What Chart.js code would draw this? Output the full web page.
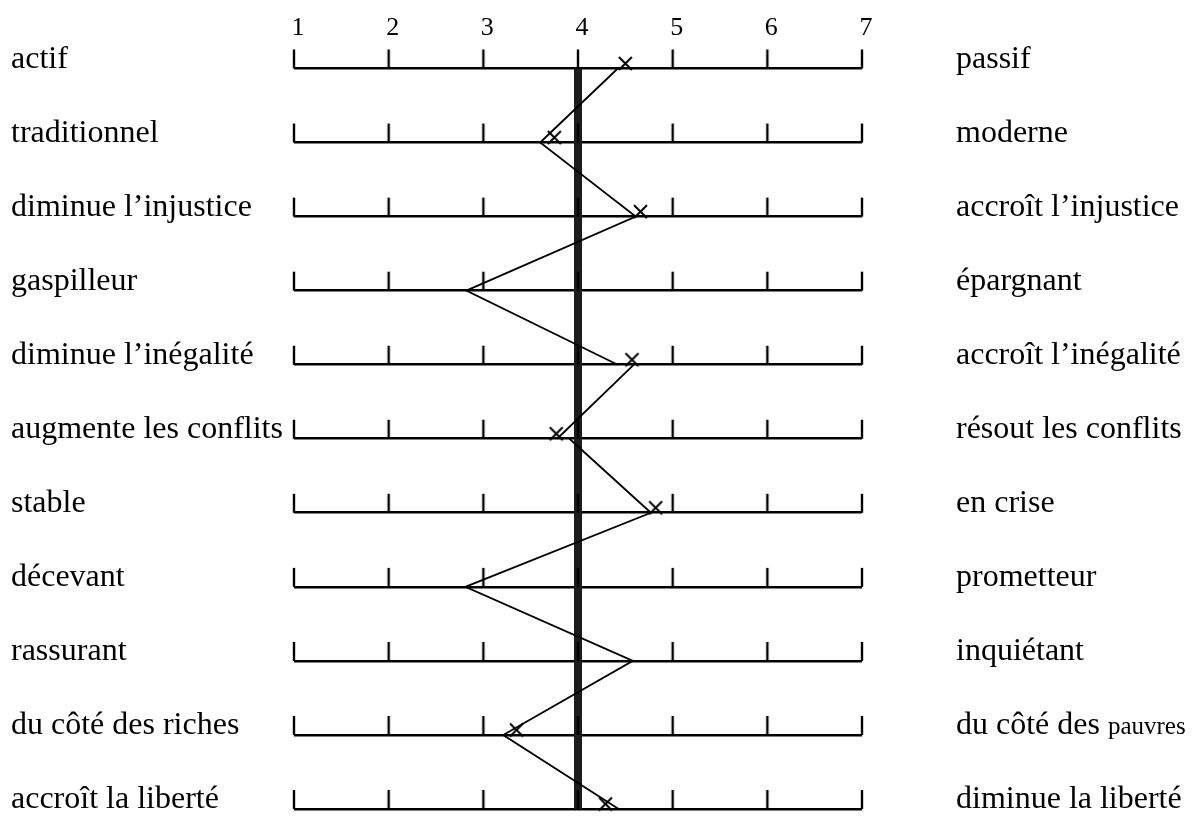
<!DOCTYPE html>
<html>
<head>
<meta charset="utf-8">
<script src="https://cdn.jsdelivr.net/npm/chart.js@4.4.1/dist/chart.umd.min.js"></script>
<style>
html,body{margin:0;padding:0;background:#fff;}
#wrap{width:1194px;height:816px;position:relative;}
</style>
</head>
<body>
<div id="wrap"><canvas id="c"></canvas></div>
<script>
// ---- data ----
const scaleTicks = [1, 2, 3, 4, 5, 6, 7];
const leftLabels = ['actif', 'traditionnel', 'diminue l’injustice', 'gaspilleur', 'diminue l’inégalité',
  'augmente les conflits', 'stable', 'décevant', 'rassurant', 'du côté des riches', 'accroît la liberté'];
const rightLabels = ['passif', 'moderne', 'accroît l’injustice', 'épargnant', 'accroît l’inégalité',
  'résout les conflits', 'en crise', 'prometteur', 'inquiétant', 'du côté des', 'diminue la liberté'];
const rightLabelSmallWords = ['', '', '', '', '', '', '', '', '', 'pauvres', ''];
const markerValues = [4.50, 3.75, 4.66, null, 4.57, 3.77, 4.82, null, null, 3.35, 4.29];
const pathValues = [4.42, 3.60, 4.61, 2.82, 4.42, null, 4.59, 3.78, null, 3.91, 4.77, 2.81, 4.58, 3.21, 4.43];
const pathRows   = [0, 1, 2, 3, 4, null, 4, 5, null, 5, 6, 7, 8, 9, 10];
const neutralValue = 4;

// ---- derived ----
const rows = leftLabels.map((_, i) => i);
const tickPoints = [];
rows.forEach(r => scaleTicks.forEach(t => tickPoints.push({x: t, y: r})));
const markerPoints = [];
markerValues.forEach((v, r) => { if (v !== null) markerPoints.push({x: v, y: r}); });
const pathPoints = pathValues.map((v, i) => ({x: v, y: pathRows[i]}));
const neutralPoints = [{x: neutralValue, y: rows[0]}, {x: neutralValue, y: rows[rows.length - 1]}];

// ---- point style images ----
function makeTickImg(len, w) {
  const c = document.createElement('canvas');
  c.width = 6; c.height = len * 2 + 2;
  const g = c.getContext('2d');
  g.strokeStyle = '#000'; g.lineWidth = w;
  g.beginPath(); g.moveTo(3, 1); g.lineTo(3, len + 1); g.stroke();
  return c;
}
function makeCrossImg(r, w, lift) {
  const c = document.createElement('canvas');
  const size = (r + 2) * 2;
  c.width = size; c.height = size + lift * 2;
  const g = c.getContext('2d');
  const cx = size / 2, cy = c.height / 2 - lift;
  g.strokeStyle = '#000'; g.lineWidth = w;
  g.beginPath();
  g.moveTo(cx - r, cy - r); g.lineTo(cx + r, cy + r);
  g.moveTo(cx + r, cy - r); g.lineTo(cx - r, cy + r);
  g.stroke();
  return c;
}
const tickImg = makeTickImg(19, 2.4);
const crossImg = makeCrossImg(6.5, 2, 5);

const FONT = 'Liberation Serif';

const smallWordPlugin = {
  id: 'smallWord',
  afterDraw(chart) {
    const s = chart.scales.y2;
    const ctx = chart.ctx;
    const opt = s.options.ticks;
    ctx.save();
    ctx.fillStyle = '#000';
    rows.forEach(r => {
      const w = rightLabelSmallWords[r];
      if (!w) return;
      const y = s.getPixelForValue(r) + opt.labelOffset;
      const x = s.left + opt.padding;
      ctx.font = '32px "' + FONT + '"';
      ctx.textBaseline = 'middle';
      const mainW = ctx.measureText(rightLabels[r] + ' ').width;
      const base = y + ctx.measureText('x').actualBoundingBoxDescent;
      ctx.font = '25px "' + FONT + '"';
      ctx.textBaseline = 'alphabetic';
      ctx.textAlign = 'left';
      ctx.fillText(w, x + mainW, base);
    });
    ctx.restore();
  }
};

new Chart(document.getElementById('c'), {
  type: 'scatter',
  data: {
    datasets: [
      { label: 'marques', data: markerPoints, pointStyle: crossImg, pointRadius: 5, showLine: false, clip: false },
      { label: 'profil', data: pathPoints, showLine: true, spanGaps: false, borderColor: '#000', borderWidth: 1.8,
        pointRadius: 0, tension: 0, clip: false },
      { label: 'graduations', data: tickPoints, pointStyle: tickImg, pointRadius: 3, showLine: false, clip: false },
      { label: 'neutre', data: neutralPoints, showLine: true, borderColor: '#1c1c1c', borderWidth: 8,
        pointRadius: 0, clip: false }
    ]
  },
  options: {
    responsive: true,
    maintainAspectRatio: false,
    animation: false,
    events: [],
    layout: { padding: { left: 11, top: 0, right: 0, bottom: 7 } },
    plugins: { legend: { display: false }, tooltip: { enabled: false } },
    scales: {
      x: {
        type: 'linear', position: 'top', min: 1, max: 7,
        ticks: { stepSize: 1, color: '#000', font: { family: FONT, size: 26 }, padding: 25, labelOffset: 4 },
        grid: { display: false, drawTicks: false },
        border: { display: false },
        afterFit(s) { s.height = 68.5; }
      },
      y: {
        type: 'linear', position: 'left', min: 0, max: 10, reverse: true,
        ticks: { stepSize: 1, autoSkip: false, callback: v => leftLabels[v], color: '#000',
          font: { family: FONT, size: 32 }, crossAlign: 'far', labelOffset: -9 },
        grid: { color: '#000', lineWidth: 2.6, drawTicks: false },
        border: { display: false },
        afterFit(s) { s.width = 283; s.paddingTop = 0; s.paddingBottom = 0; }
      },
      y2: {
        type: 'linear', position: 'right', min: 0, max: 10, reverse: true,
        ticks: { stepSize: 1, autoSkip: false, callback: v => rightLabels[v], color: '#000',
          font: { family: FONT, size: 32 }, padding: 94, labelOffset: -9 },
        grid: { display: false, drawTicks: false },
        border: { display: false },
        afterFit(s) { s.width = 332; s.paddingTop = 0; s.paddingBottom = 0; }
      }
    }
  },
  plugins: [smallWordPlugin]
});
</script>
</body>
</html>
